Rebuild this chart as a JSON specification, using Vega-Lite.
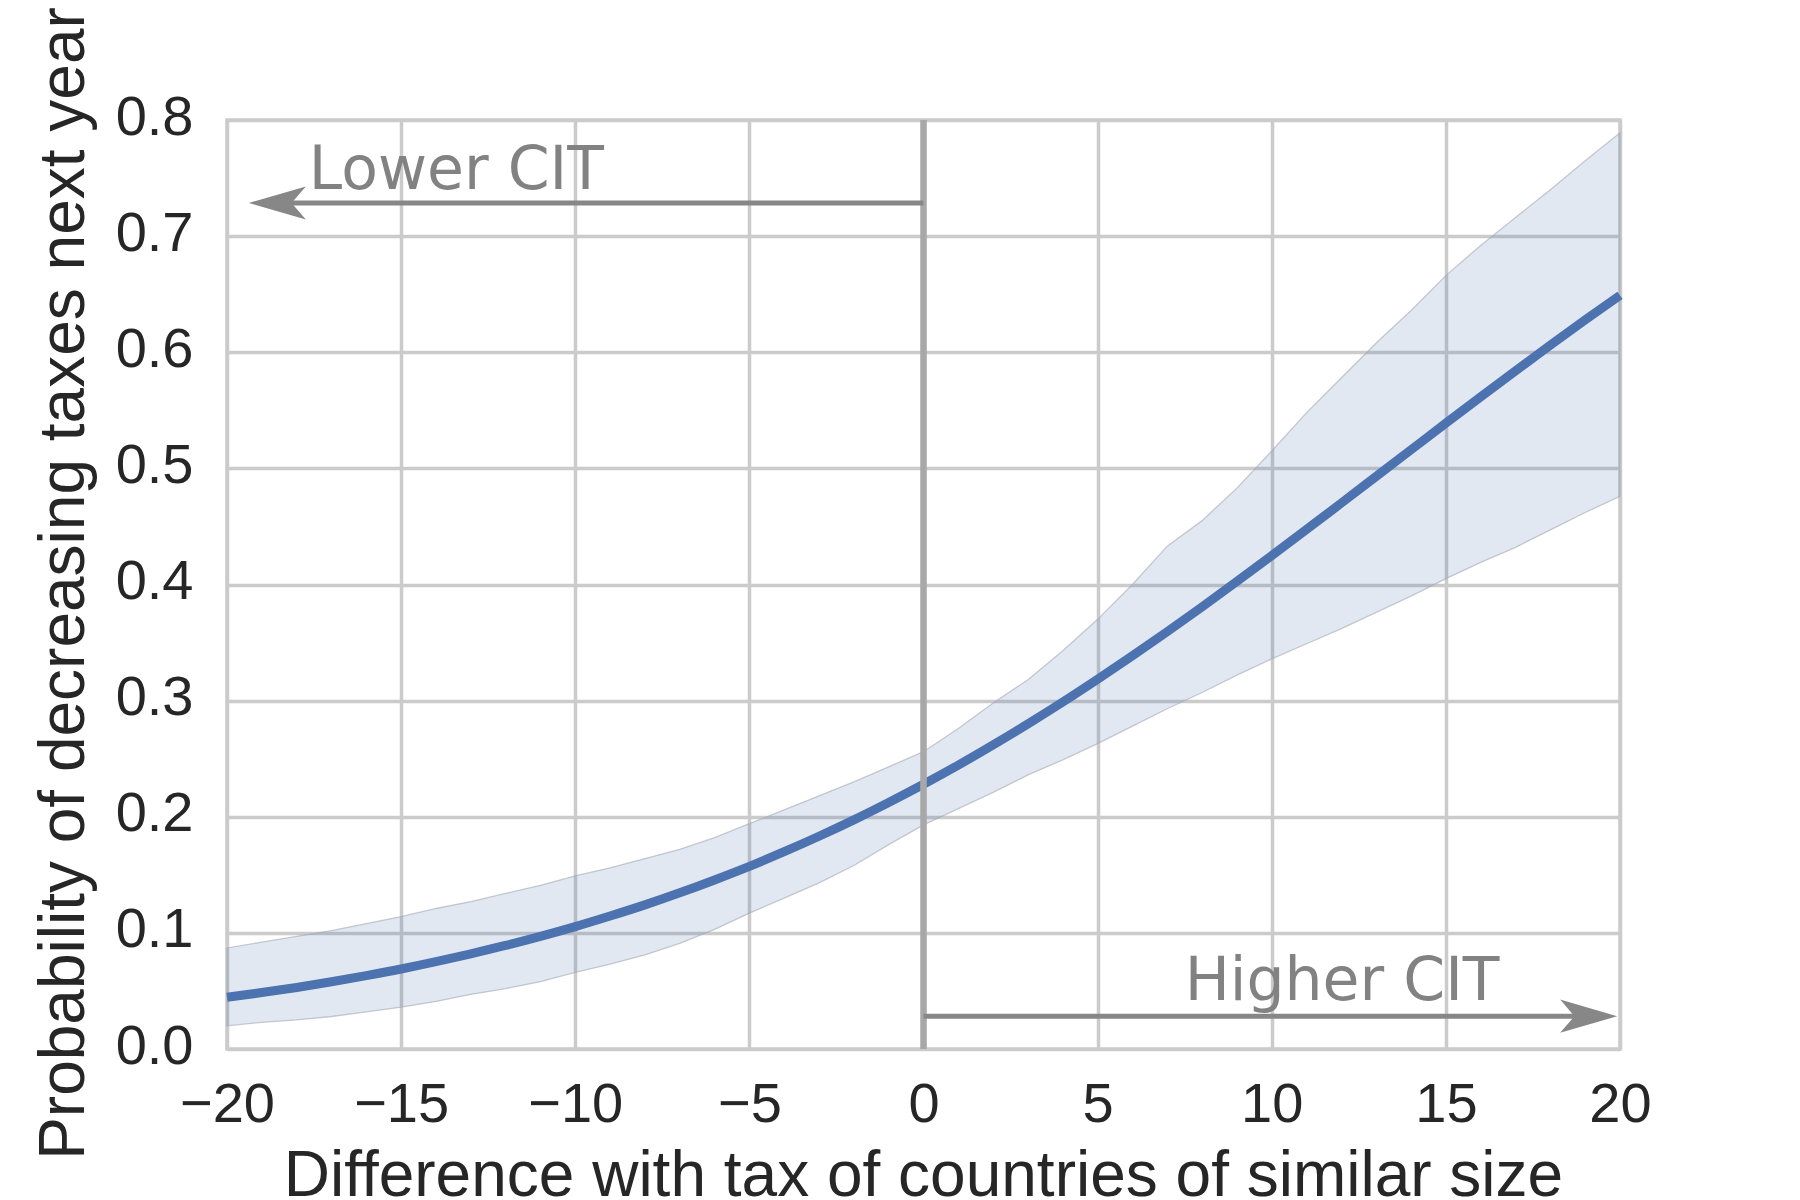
{
  "$schema": "https://vega.github.io/schema/vega-lite/v6.json",
  "autosize": {"type": "none"},
  "padding": {"left": 227, "top": 120, "right": 180, "bottom": 151},
  "width": 1393,
  "height": 929,
  "background": "white",
  "config": {
    "view": {"stroke": "#cbcbcb", "strokeWidth": 3.5},
    "axis": {
      "labelFont": "Liberation Sans",
      "titleFont": "Liberation Sans",
      "labelColor": "#262626",
      "titleColor": "#262626",
      "labelFontSize": 56,
      "titleFontSize": 64,
      "titleFontWeight": "normal",
      "gridColor": "#cbcbcb",
      "gridWidth": 3.5,
      "gridOpacity": 1,
      "domain": false,
      "ticks": false,
      "tickSize": 0,
      "labelFlush": false,
      "labelOverlap": false,
      "labelBound": false
    }
  },
  "datasets": {
    "fit": [
      {"x": -20, "p": 0.0445, "lo": 0.020, "hi": 0.087},
      {"x": -19, "p": 0.0486, "lo": 0.023, "hi": 0.092},
      {"x": -18, "p": 0.0530, "lo": 0.025, "hi": 0.097},
      {"x": -17, "p": 0.0579, "lo": 0.028, "hi": 0.102},
      {"x": -16, "p": 0.0632, "lo": 0.032, "hi": 0.108},
      {"x": -15, "p": 0.0689, "lo": 0.036, "hi": 0.114},
      {"x": -14, "p": 0.0752, "lo": 0.041, "hi": 0.121},
      {"x": -13, "p": 0.0820, "lo": 0.047, "hi": 0.127},
      {"x": -12, "p": 0.0892, "lo": 0.052, "hi": 0.134},
      {"x": -11, "p": 0.0970, "lo": 0.058, "hi": 0.141},
      {"x": -10, "p": 0.1054, "lo": 0.066, "hi": 0.149},
      {"x": -9, "p": 0.1145, "lo": 0.073, "hi": 0.156},
      {"x": -8, "p": 0.1241, "lo": 0.081, "hi": 0.164},
      {"x": -7, "p": 0.1345, "lo": 0.091, "hi": 0.172},
      {"x": -6, "p": 0.1456, "lo": 0.103, "hi": 0.182},
      {"x": -5, "p": 0.1573, "lo": 0.117, "hi": 0.194},
      {"x": -4, "p": 0.1699, "lo": 0.130, "hi": 0.206},
      {"x": -3, "p": 0.1832, "lo": 0.143, "hi": 0.218},
      {"x": -2, "p": 0.1973, "lo": 0.158, "hi": 0.230},
      {"x": -1, "p": 0.2123, "lo": 0.176, "hi": 0.243},
      {"x": 0, "p": 0.2280, "lo": 0.193, "hi": 0.256},
      {"x": 1, "p": 0.2445, "lo": 0.207, "hi": 0.276},
      {"x": 2, "p": 0.2619, "lo": 0.221, "hi": 0.298},
      {"x": 3, "p": 0.2800, "lo": 0.236, "hi": 0.318},
      {"x": 4, "p": 0.2988, "lo": 0.249, "hi": 0.343},
      {"x": 5, "p": 0.3184, "lo": 0.263, "hi": 0.370},
      {"x": 6, "p": 0.3386, "lo": 0.278, "hi": 0.400},
      {"x": 7, "p": 0.3594, "lo": 0.293, "hi": 0.433},
      {"x": 8, "p": 0.3808, "lo": 0.307, "hi": 0.455},
      {"x": 9, "p": 0.4027, "lo": 0.322, "hi": 0.483},
      {"x": 10, "p": 0.4249, "lo": 0.336, "hi": 0.515},
      {"x": 11, "p": 0.4474, "lo": 0.349, "hi": 0.548},
      {"x": 12, "p": 0.4702, "lo": 0.362, "hi": 0.578},
      {"x": 13, "p": 0.4931, "lo": 0.376, "hi": 0.608},
      {"x": 14, "p": 0.5160, "lo": 0.390, "hi": 0.636},
      {"x": 15, "p": 0.5389, "lo": 0.405, "hi": 0.666},
      {"x": 16, "p": 0.5616, "lo": 0.419, "hi": 0.692},
      {"x": 17, "p": 0.5840, "lo": 0.432, "hi": 0.716},
      {"x": 18, "p": 0.6061, "lo": 0.447, "hi": 0.740},
      {"x": 19, "p": 0.6278, "lo": 0.462, "hi": 0.765},
      {"x": 20, "p": 0.6490, "lo": 0.476, "hi": 0.789}
    ],
    "zero": [{"x": 0}],
    "shafts": [
      {"x0": 0, "x1": -18.7, "y": 0.7286},
      {"x0": 0, "x1": 18.8, "y": 0.0283}
    ],
    "heads": [
      {"x": -18.555, "y": 0.7286, "dir": "left"},
      {"x": 19.10, "y": 0.0283, "dir": "right"}
    ],
    "notes": [
      {"x": -17.65, "y": 0.741, "label": "Lower CIT"},
      {"x": 7.5, "y": 0.042, "label": "Higher CIT"}
    ]
  },
  "layer": [
    {
      "data": {"name": "fit"},
      "mark": {"type": "area", "fill": "#4C72B0", "fillOpacity": 0.16, "stroke": "#a3a9b4", "strokeWidth": 1.3, "strokeOpacity": 0.6},
      "encoding": {
        "x": {
          "field": "x", "type": "quantitative",
          "scale": {"domain": [-20, 20], "nice": false, "zero": false},
          "axis": {
            "values": [-20, -15, -10, -5, 0, 5, 10, 15, 20],
            "labelBaseline": "alphabetic",
            "labelPadding": 72,
            "title": "Difference with tax of countries of similar size",
            "titleBaseline": "alphabetic",
            "titleAnchor": "middle",
            "titleX": 696,
            "titleY": 146
          }
        },
        "y": {
          "field": "lo", "type": "quantitative",
          "scale": {"domain": [0, 0.8], "nice": false},
          "axis": {
            "values": [0, 0.1, 0.2, 0.3, 0.4, 0.5, 0.6, 0.7, 0.8],
            "format": ".1f",
            "labelPadding": 34,
            "labelBaseline": "middle",
            "labelOffset": -3,
            "title": "Probability of decreasing taxes next year",
            "titleAngle": -90,
            "titleAlign": "center",
            "titleBaseline": "alphabetic",
            "titleAnchor": "middle",
            "titleX": -144,
            "titleY": 463
          }
        },
        "y2": {"field": "hi"}
      }
    },
    {
      "data": {"name": "fit"},
      "mark": {"type": "line", "color": "#4C72B0", "strokeWidth": 9, "interpolate": "monotone"},
      "encoding": {
        "x": {"field": "x", "type": "quantitative"},
        "y": {"field": "p", "type": "quantitative"}
      }
    },
    {
      "data": {"name": "zero"},
      "mark": {"type": "rule", "color": "#a8a8a8", "strokeWidth": 6.5},
      "encoding": {"x": {"field": "x", "type": "quantitative"}}
    },
    {
      "data": {"name": "shafts"},
      "mark": {"type": "rule", "color": "#878787", "strokeWidth": 5},
      "encoding": {
        "x": {"field": "x0", "type": "quantitative"},
        "x2": {"field": "x1"},
        "y": {"field": "y", "type": "quantitative"}
      }
    },
    {
      "data": {"name": "heads"},
      "mark": {"type": "point", "filled": true, "color": "#878787", "opacity": 1, "size": 3249, "strokeWidth": 0},
      "encoding": {
        "x": {"field": "x", "type": "quantitative"},
        "y": {"field": "y", "type": "quantitative"},
        "shape": {
          "field": "dir", "type": "nominal",
          "scale": {"domain": ["left", "right"], "range": ["M-1,0L1,-0.58L0.5,0L1,0.58Z", "M1,0L-1,-0.58L-0.5,0L-1,0.58Z"]},
          "legend": null
        }
      }
    },
    {
      "data": {"name": "notes"},
      "mark": {"type": "text", "align": "left", "baseline": "alphabetic", "font": "DejaVu Sans", "fontSize": 60, "color": "#828282"},
      "encoding": {
        "x": {"field": "x", "type": "quantitative"},
        "y": {"field": "y", "type": "quantitative"},
        "text": {"field": "label"}
      }
    }
  ]
}
